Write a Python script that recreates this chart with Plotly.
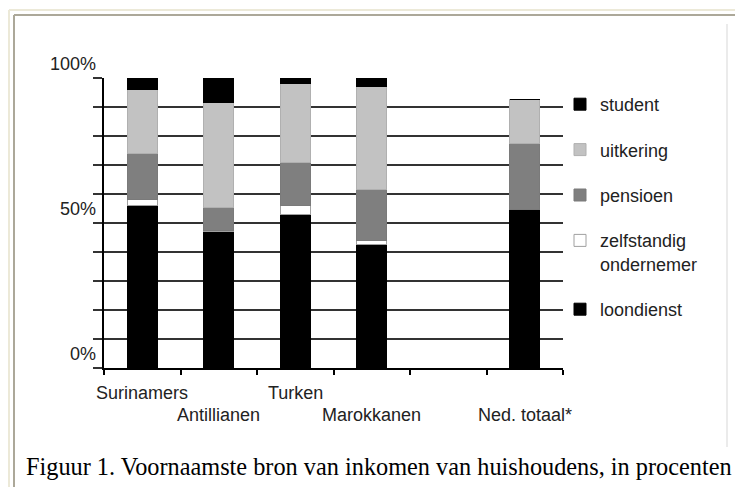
import plotly.graph_objects as go

# ---- data ----
categories = ["Surinamers", "Antillianen", "Turken", "Marokkanen", "", "Ned. totaal*"]
loondienst = [56, 47, 53, 42.5, None, 54.5]
zelfstandig = [2, 0.5, 3, 1.5, None, 0]
pensioen = [16, 8, 15, 17.5, None, 23]
uitkering = [22, 36, 27, 35.5, None, 15]
student = [4, 8.5, 2, 3, None, 0]
series_names = ["loondienst", "zelfstandig<br>ondernemer", "pensioen", "uitkering", "student"]
y_tick_vals = [0, 50, 100]
y_tick_text = ["0%", "50%", "100%"]
caption = "Figuur 1. Voornaamste bron van inkomen van huishoudens, in procenten"

# page body has an 8px margin; compensate
OFF = 8
W, H = 743 - OFF, 487 - OFF
L, T = 104 - OFF, 78 - OFF
PW, PH = 459, 290
R, B = W - L - PW, H - T - PH

def px_x(p):
    return (p - OFF - L) / PW

def px_y(p):
    return (T + PH - (p - OFF)) / PH

x = list(range(len(categories)))
series = [loondienst, zelfstandig, pensioen, uitkering, student]
fills = ["#000000", "#ffffff", "#7f7f7f", "#c2c2c2", "#000000"]
edges = ["#000000", "#a0a0a0", "#7a7a7a", "#b0b0b0", "#000000"]

fig = go.Figure()
n = len(series)
for k, (name, vals, fc, ec) in enumerate(zip(series_names, series, fills, edges)):
    fig.add_trace(go.Bar(
        x=x, y=vals, name=name, width=0.39,
        marker=dict(color=fc, line=dict(color=ec, width=1)),
        legendgroup=name, legendrank=n - k,
    ))

font_main = "Liberation Sans, Arial, sans-serif"
annotations = []
for i, c in enumerate(categories):
    if not c:
        continue
    annotations.append(dict(
        x=i, xref="x", y=0, yref="paper", text=c, showarrow=False,
        xanchor="center", yanchor="middle", yshift=-25 if i % 2 == 0 else -47,
        font=dict(family=font_main, size=18, color="#222"),
    ))
for v, t in zip(y_tick_vals, y_tick_text):
    annotations.append(dict(
        x=0, xref="paper", y=v, yref="y", text=t, showarrow=False,
        xanchor="right", yanchor="middle", xshift=-6, yshift=14,
        font=dict(family=font_main, size=18, color="#222"),
    ))
annotations.append(dict(
    x=px_x(24), xref="paper", y=px_y(466), yref="paper", text=caption,
    showarrow=False, xanchor="left", yanchor="middle",
    font=dict(family="Liberation Serif, Times New Roman, serif", size=24.3, color="#000"),
))

shapes = [
    # outer light frame
    dict(type="line", xref="paper", yref="paper", x0=px_x(9), x1=px_x(750), y0=px_y(10), y1=px_y(10),
         line=dict(color="#ece9d8", width=2)),
    dict(type="line", xref="paper", yref="paper", x0=px_x(9), x1=px_x(9), y0=px_y(10), y1=px_y(495),
         line=dict(color="#ece9d8", width=2)),
    # inner darker frame
    dict(type="line", xref="paper", yref="paper", x0=px_x(14), x1=px_x(750), y0=px_y(15), y1=px_y(15),
         line=dict(color="#aca899", width=2)),
    dict(type="line", xref="paper", yref="paper", x0=px_x(14), x1=px_x(14), y0=px_y(15), y1=px_y(495),
         line=dict(color="#aca899", width=2)),
    # right light line of chart box
    dict(type="line", xref="paper", yref="paper", x0=px_x(727), x1=px_x(727), y0=px_y(24), y1=px_y(447),
         line=dict(color="#ebebeb", width=2)),
]

fig.update_layout(
    width=W, height=H,
    margin=dict(l=L, r=R, t=T, b=B),
    paper_bgcolor="white", plot_bgcolor="white",
    barmode="stack",
    showlegend=True,
    legend=dict(
        x=px_x(560), y=px_y(86), xanchor="left", yanchor="top",
        traceorder="grouped", tracegroupgap=19, valign="top",
        font=dict(family=font_main, size=18, color="#222"),
        bgcolor="rgba(0,0,0,0)",
    ),
    xaxis=dict(
        range=[-0.5, 5.5], tickvals=[i - 0.5 for i in range(len(categories) + 1)],
        showticklabels=False, showgrid=False, zeroline=False,
        showline=True, linecolor="#000", linewidth=2,
        ticks="outside", ticklen=5, tickwidth=2, tickcolor="#000",
    ),
    yaxis=dict(
        range=[0, 100], tickvals=list(range(0, 101, 10)),
        showticklabels=False, showgrid=True, gridcolor="#333", gridwidth=2,
        zeroline=False, showline=True, linecolor="#000", linewidth=2,
        ticks="outside", ticklen=9, tickwidth=2, tickcolor="#333",
    ),
    annotations=annotations,
    shapes=shapes,
)

fig.write_html("out.html")
